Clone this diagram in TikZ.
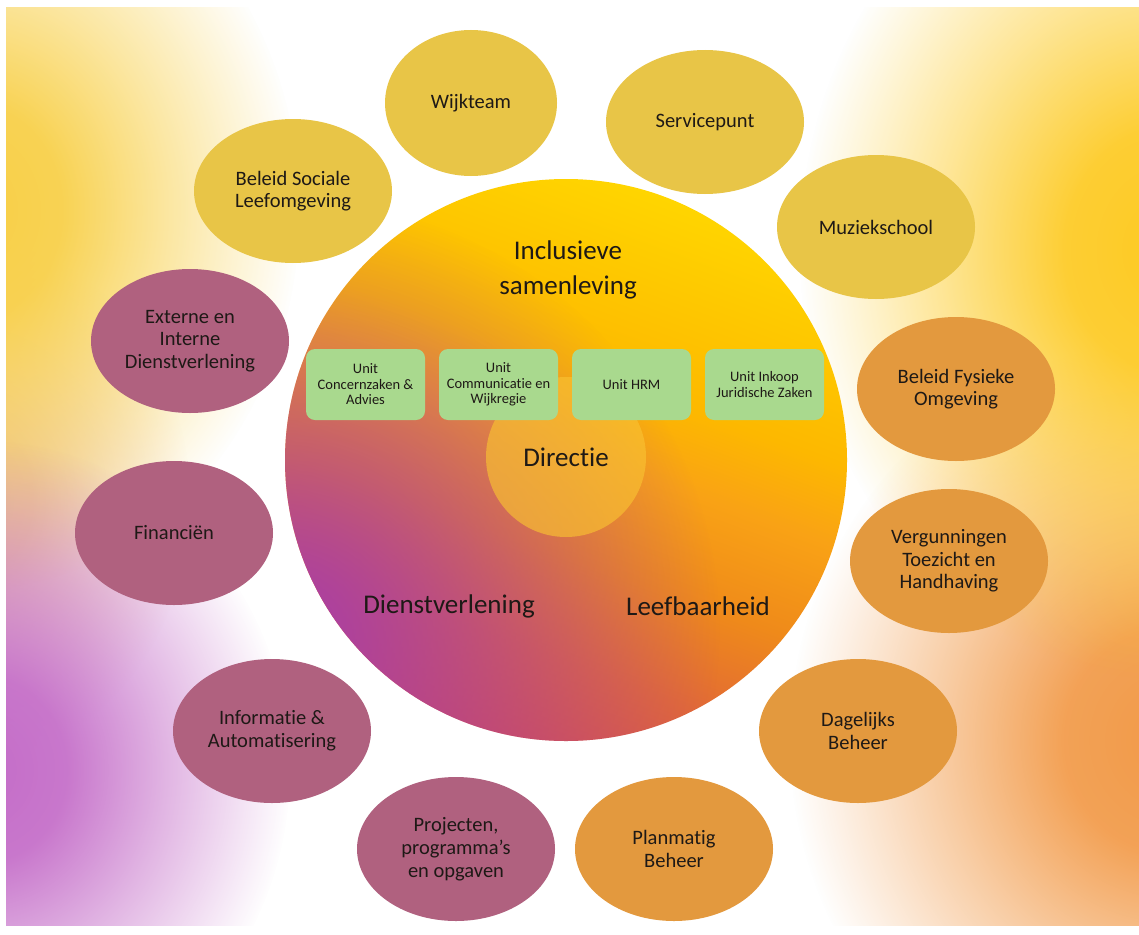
\documentclass[tikz,border=0pt]{standalone}
\usepackage{fontspec}
\setmainfont{Carlito}[Ligatures={NoCommon}]
\usetikzlibrary{fadings,shapes.geometric}

% palette
\definecolor{ink}{HTML}{1E1916}
\definecolor{mustard}{HTML}{E8C547}
\definecolor{mauve}{HTML}{B0617F}
\definecolor{amber}{HTML}{E3993E}
\definecolor{unitgreen}{HTML}{A9D98E}
\definecolor{dirfill}{HTML}{F9C232}
\definecolor{violetglow}{HTML}{A83EA8}
\definecolor{bgyellowL}{HTML}{F8CF45}
\definecolor{bgyellowR}{HTML}{FDCA22}
\definecolor{bgpeach}{HTML}{EEC8A8}
\definecolor{bgpurple}{HTML}{C46CC8}
\definecolor{bgorange}{HTML}{F29A48}
\definecolor{hA}{HTML}{D85548}
\definecolor{hB}{HTML}{E26A35}
\definecolor{hC}{HTML}{EF8A1A}
\definecolor{hD}{HTML}{F9A215}
\definecolor{hE}{HTML}{FDB800}
\definecolor{hF}{HTML}{FFD500}

% main disc: red-orange at the lower side to yellow at the top
\pgfdeclarehorizontalshading{heart}{100bp}{color(0bp)=(hA); color(25bp)=(hA);
  color(33bp)=(hB); color(42bp)=(hC); color(51bp)=(hD); color(58bp)=(hE);
  color(75bp)=(hF); color(100bp)=(hF)}

% soft radial glow used for the background corners
\pgfdeclareradialshading{softglowshade}{\pgfpointorigin}{color(0bp)=(pgftransparent!0);
  color(7bp)=(pgftransparent!8); color(15bp)=(pgftransparent!50);
  color(25bp)=(pgftransparent!100); color(50bp)=(pgftransparent!100)}
\pgfdeclarefading{softglow}{\pgfuseshading{softglowshade}}
\tikzfading[name=blob, inner color=transparent!0, outer color=transparent!100]

\begin{document}
\begin{tikzpicture}[x=1pt,y=-1pt,
  every node/.style={text=ink},
  dept/.style={ellipse, inner sep=0pt, minimum width=198pt, minimum height=144pt,
    align=center, font=\fontsize{20.5}{22.7}\selectfont},
  yel/.style={dept, fill=mustard},
  mau/.style={dept, fill=mauve},
  amb/.style={dept, fill=amber},
  unitbox/.style={rectangle, rounded corners=9pt, fill=unitgreen, minimum width=119pt,
    minimum height=71pt, inner sep=0pt, align=center, font=\fontsize{14.5}{15.5}\selectfont},
  pillar/.style={align=center, font=\fontsize{27}{35}\selectfont}]

\useasboundingbox (0,0) rectangle (1139,934);
\fill[white] (0,0) rectangle (1139,934);

% coloured corners of the backdrop
\begin{scope}
  \clip (6,8) rectangle (1139,925);
  \fill[bgpeach, path fading=softglow] (-30,500) ellipse [x radius=220pt, y radius=260pt];
  \fill[bgyellowL, path fading=softglow] (-30,210) ellipse [x radius=330pt, y radius=380pt];
  \fill[bgpurple, path fading=softglow] (-20,770) ellipse [x radius=310pt, y radius=330pt];
  \fill[bgorange, path fading=softglow] (1170,740) ellipse [x radius=380pt, y radius=400pt];
  \fill[bgyellowR, path fading=softglow] (1170,250) ellipse [x radius=370pt, y radius=430pt];
\end{scope}

% central disc with its three pillars
\node[circle, minimum size=562pt, inner sep=0pt, shade, shading=heart, shading angle=70] (core) at (566,460) {};
\begin{scope}
  \clip (566,460) circle (281pt);
  \fill[violetglow, path fading=blob] (290,630) circle (430pt);
\end{scope}
\node[circle, minimum size=160pt, inner sep=0pt, fill=dirfill, fill opacity=0.65,
  text opacity=1, font=\fontsize{27}{33}\selectfont] (dir) at (566,457) {Directie};

\node[unitbox] (u1) at (365.5,384.5) {Unit\\Concernzaken \&\\Advies};
\node[unitbox] (u2) at (498.5,384.5) {Unit\\Communicatie en\\Wijkregie};
\node[unitbox] (u3) at (631.5,384.5) {Unit HRM};
\node[unitbox] (u4) at (764.5,384.5) {Unit Inkoop\\Juridische Zaken};

\node[pillar] (incl) at (568,270) {Inclusieve\\samenleving};
\node[pillar] (dienst) at (449,606) {Dienstverlening};
\node[pillar] (leef) at (698,606) {Leefbaarheid};

% departments around the disc
\node[yel, minimum width=172pt, minimum height=146pt] (wijk) at (471,103) {Wijkteam};
\node[yel] (service) at (705,122) {Servicepunt};
\node[yel] (muziek) at (876,227) {Muziekschool};
\node[yel] (sociaal) at (293,191) {Beleid Sociale\\Leefomgeving};
\node[amb] (fysiek) at (956,389) {Beleid Fysieke\\Omgeving};
\node[amb] (vth) at (949,561) {Vergunningen\\Toezicht en\\Handhaving};
\node[amb] (dagelijks) at (858,731) {Dagelijks\\Beheer};
\node[amb] (planmatig) at (674,849) {Planmatig\\Beheer};
\node[mau] (projecten) at (456,849) {Projecten,\\programma’s\\en opgaven};
\node[mau] (ia) at (272,731) {Informatie \&\\Automatisering};
\node[mau] (fin) at (174,533) {Financiën};
\node[mau] (extern) at (190,341) {Externe en\\Interne\\Dienstverlening};

\end{tikzpicture}
\end{document}
